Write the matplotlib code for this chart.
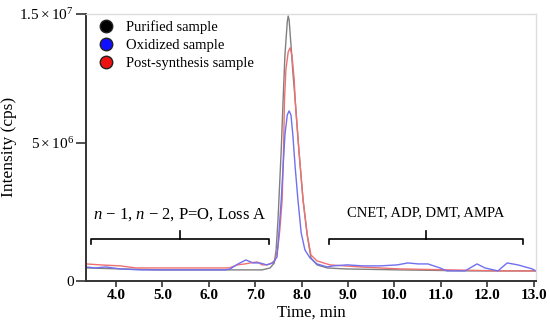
import numpy as np
import matplotlib
matplotlib.use("Agg")
import matplotlib.pyplot as plt
from matplotlib.lines import Line2D
from matplotlib.transforms import blended_transform_factory

plt.rcParams["font.family"] = "Liberation Serif"
plt.rcParams["mathtext.fontset"] = "custom"
plt.rcParams["mathtext.rm"] = "Liberation Serif"
plt.rcParams["mathtext.it"] = "Liberation Serif:italic"

# retention time (min) and intensity (millions of cps)
purified_t = [3.36, 4.09, 4.95, 5.81, 6.67, 7.15, 7.32, 7.41, 7.45, 7.49, 7.51, 7.56,
              7.60, 7.64, 7.69, 7.71, 7.73, 7.77, 7.81, 7.86, 7.94, 8.03, 8.12, 8.20,
              8.33, 8.55, 8.94, 10.12, 11.63, 13.05]
purified_i = [0.097, 0.085, 0.074, 0.074, 0.074, 0.074, 0.097, 0.167, 0.415, 1.281, 2.055,
              4.578, 7.846, 11.36, 14.26, 14.81, 14.44, 12.21, 9.97, 7.846, 4.578, 2.055,
              0.800, 0.252, 0.138, 0.097, 0.085, 0.074, 0.063, 0.063]

oxidized_t = [3.36, 3.55, 3.78, 4.09, 4.52, 4.95, 5.81, 6.35, 6.46, 6.63, 6.80, 6.95,
              7.10, 7.25, 7.38, 7.47, 7.51, 7.56, 7.60, 7.64, 7.69, 7.73, 7.77, 7.81,
              7.86, 7.92, 7.99, 8.07, 8.18, 8.33, 8.55, 8.68, 8.98, 9.32, 9.69, 10.06,
              10.29, 10.51, 10.72, 10.98, 11.13, 11.52, 11.78, 11.95, 12.23, 12.43,
              12.66, 12.97, 13.05]
oxidized_i = [0.110, 0.097, 0.110, 0.085, 0.074, 0.074, 0.074, 0.074, 0.085, 0.152, 0.216,
              0.167, 0.167, 0.138, 0.167, 0.271, 0.859, 2.055, 3.63, 5.49, 6.79, 7.07,
              6.79, 5.49, 3.63, 2.055, 0.859, 0.415, 0.252, 0.152, 0.110, 0.124,
              0.138, 0.124, 0.124, 0.138, 0.167, 0.152, 0.152, 0.097, 0.063, 0.063, 0.152,
              0.097, 0.063, 0.167, 0.138, 0.085, 0.063]

post_t = [3.36, 3.66, 4.09, 4.43, 4.95, 5.81, 6.44, 6.61, 6.78, 6.89, 7.04, 7.15, 7.25,
          7.36, 7.43, 7.49, 7.53, 7.58, 7.61, 7.63, 7.66, 7.71, 7.75, 7.79, 7.84, 7.86,
          7.94, 8.03, 8.12, 8.20, 8.33, 8.61, 9.26, 10.12, 11.20, 12.28, 13.05]
post_i = [0.152, 0.138, 0.124, 0.097, 0.097, 0.097, 0.097, 0.138, 0.152, 0.167, 0.183,
          0.138, 0.138, 0.167, 0.216, 0.483, 0.951, 2.055, 4.578, 7.846, 10.13, 11.61,
          11.96, 11.36, 9.35, 7.846, 4.578, 2.055, 0.800, 0.309, 0.200, 0.138, 0.110,
          0.085, 0.074, 0.063, 0.063]

series_labels = ["Purified sample", "Oxidized sample", "Post-synthesis sample"]
x_ticks = [4.0, 5.0, 6.0, 7.0, 8.0, 9.0, 10.0, 11.0, 12.0, 13.0]
y_ticks = [0, 5e6, 1.5e7]
y_tick_labels = ["0", r"$5\times10^6$", r"$1.5\times10^7$"]


# the published axis is stretched (not linear) - approximate with a power scale
def fwd(v):
    return np.power(np.clip(v, 0, None), 0.6)


def inv(u):
    return np.power(np.clip(u, 0, None), 1 / 0.6)


fig = plt.figure(figsize=(5.5, 3.24), dpi=100)
ax = fig.add_axes([0.157, 0.133, 0.8175, 0.824])

ax.plot(purified_t, np.array(purified_i) * 1e6, color="#808080", lw=1.0)
ax.plot(post_t, np.array(post_i) * 1e6, color="#f07070", lw=1.0)
ax.plot(oxidized_t, np.array(oxidized_i) * 1e6, color="#7070f0", lw=1.0)

ax.set_yscale("function", functions=(fwd, inv))
ax.set_ylim(0, 1.5e7)
ax.set_xlim(3.36, 13.05)
ax.set_yticks(y_ticks)
ax.set_yticklabels(y_tick_labels, fontsize=11)
ax.set_xticks(x_ticks)
ax.set_xticklabels(["%.1f" % t for t in x_ticks], fontsize=11, fontweight="bold")
ax.minorticks_off()
ax.tick_params(axis="y", length=7, width=1.2, color="#333333", pad=2)
ax.tick_params(axis="x", length=4, width=1.2, color="#333333", pad=2)

for side in ["left", "bottom"]:
    ax.spines[side].set_color("#333333")
    ax.spines[side].set_linewidth(1.4)
for side in ["top", "right"]:
    ax.spines[side].set_color("#dddddd")
    ax.spines[side].set_linewidth(1.0)

ax.set_xlabel("Time, min", fontsize=12, labelpad=2)
ax.set_ylabel("Intensity (cps)", fontsize=12.5, labelpad=2)

# legend with filled circles
handles = []
for c in ["black", "#1010ff", "#ee1111"]:
    handles.append(Line2D([], [], marker="o", ls="none", markersize=9,
                          markerfacecolor=c, markeredgecolor="#222222"))
ax.legend(handles, series_labels, loc="upper left", frameon=False, fontsize=10.5,
          bbox_to_anchor=(-0.008, 1.01), handletextpad=0.35, labelspacing=0.33,
          borderaxespad=0.2)

# brackets over the impurity regions
trans = blended_transform_factory(ax.transData, ax.transAxes)
for x0, x1, xc in [(3.46, 7.30, 5.38), (8.59, 12.77, 10.68)]:
    ax.plot([x0, x0, x1, x1], [0.139, 0.157, 0.157, 0.139], color="black", lw=1.2,
            transform=trans, clip_on=False)
    ax.plot([xc, xc], [0.157, 0.187], color="black", lw=1.2, transform=trans)

ax.text(5.38, 0.25, "$n$ \u2212 1, $n$ \u2212 2, P=O, Loss A", transform=trans,
        fontsize=12, ha="center", va="center")
ax.text(10.68, 0.255, "CNET, ADP, DMT, AMPA", transform=trans, fontsize=10.5,
        ha="center", va="center")

fig.savefig("out.png", dpi=100)
